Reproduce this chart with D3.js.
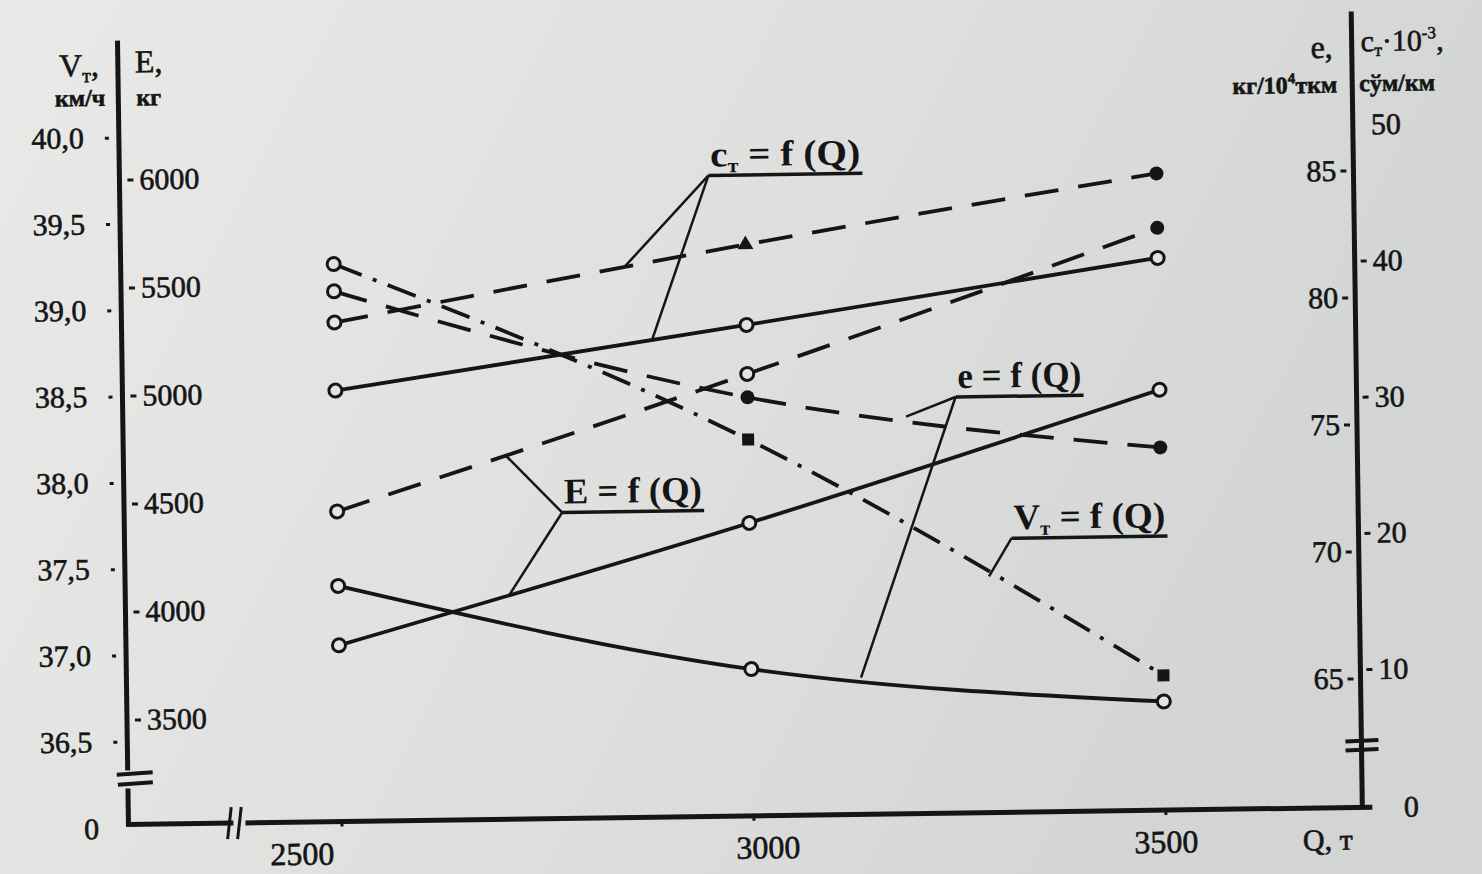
<!DOCTYPE html>
<html>
<head>
<meta charset="utf-8">
<script src="https://cdn.jsdelivr.net/npm/d3@7"></script>
<style>
  body { margin: 0; background: #dfe0de; }
  svg { display: block; }
  .tick text { font-family: "Liberation Serif", "DejaVu Serif", serif; }
</style>
</head>
<body>
<div id="chart"></div>
<script>
// Q, т (cargo volume)
var qValues = [2500, 3000, 3500];
var qTicks = [2500, 3000, 3500];

// series
var ctDashed = [36.5, 41.8, 46.6];   // cт·10^-3, сўм/км
var ctSolid = [31.5, 35.9, 40.4];
var eDashed = [80.8, 76.4, 74.2];    // e, кг/10^4 ткм
var eSolid = [69.2, 65.7, 64.2];
var EDashed = [4450, 5060, 5710];    // E, кг
var ESolid = [3830, 4370, 4960];
var vT = [39.25, 38.2, 36.8];        // Vт, км/ч

// tick labels
var vTicks = [40, 39.5, 39, 38.5, 38, 37.5, 37, 36.5];
var ETicks = [6000, 5500, 5000, 4500, 4000, 3500];
var eTicks = [85, 80, 75, 70, 65];
var ctTicks = [50, 40, 30, 20, 10];

var width = 1482, height = 874;
var ink = "#151515";
var serif = '"Liberation Serif", "DejaVu Serif", serif';

var svg = d3.select("#chart").append("svg")
  .attr("width", width)
  .attr("height", height);

// paper background
var grad = svg.append("defs").append("linearGradient")
  .attr("id", "paper").attr("x1", 0).attr("x2", 1).attr("y1", 0).attr("y2", 0.3);
grad.append("stop").attr("offset", "0%").attr("stop-color", "#e9eae8");
grad.append("stop").attr("offset", "55%").attr("stop-color", "#dfe0de");
grad.append("stop").attr("offset", "100%").attr("stop-color", "#d2d5d4");
svg.append("rect").attr("width", width).attr("height", height).attr("fill", "url(#paper)");

// the photo is a little tilted
var g = svg.append("g").attr("transform", "rotate(-0.8, 740, 430)");

/* scales */
var x = d3.scaleLinear().domain([2500, 3500]).range([336, 1160]);
var yV = d3.scaleLinear().domain([36.5, 40]).range([733, 129]);
var yE = d3.scaleLinear().domain([3500, 6000]).range([711, 171]);
var ye = d3.scaleLinear().domain([65, 85]).range([687, 179]);
var yc = d3.scaleLinear().domain([0, 50]).range([814, 133]);

var leftX = 123, rightX = 1357, baseY = 816;
var comma = function(d) { return d3.format(".1f")(d).replace(".", ","); };

function styleAxis(sel, size) {
  sel.select(".domain").remove();
  sel.selectAll(".tick line").attr("stroke", ink).attr("stroke-width", 3);
  sel.selectAll(".tick text").attr("fill", ink).style("font-size", size + "px")
    .attr("stroke", ink).attr("stroke-width", 0.6);
}

/* axes */
g.append("g").attr("transform", "translate(" + (leftX - 10) + ",0)")
  .call(d3.axisLeft(yV).tickValues(vTicks).tickSize(4).tickPadding(21).tickFormat(comma))
  .call(styleAxis, 30);

g.append("g").attr("transform", "translate(" + (leftX + 8) + ",0)")
  .call(d3.axisRight(yE).tickValues(ETicks).tickSize(6).tickPadding(6).tickFormat(d3.format("d")))
  .call(styleAxis, 30);

g.append("g").attr("transform", "translate(" + (rightX - 7) + ",0)")
  .call(d3.axisLeft(ye).tickValues(eTicks).tickSize(6).tickPadding(4).tickFormat(d3.format("d")))
  .call(styleAxis, 30);

g.append("g").attr("transform", "translate(" + (rightX + 6) + ",0)")
  .call(d3.axisRight(yc).tickValues(ctTicks).tickSize(6).tickPadding(6).tickFormat(d3.format("d")))
  .call(styleAxis, 30);
g.selectAll(".tick").filter(function(d) { return d === 50; }).select("line").remove();

var xAxis = g.append("g").attr("transform", "translate(0," + baseY + ")")
  .call(d3.axisBottom(x).tickValues(qTicks).tickSize(5).tickPadding(15).tickFormat(d3.format("d")))
  .call(styleAxis, 32);
var xShift = [-40, 14, 0];
xAxis.selectAll(".tick text").attr("dx", function(d, i) { return xShift[i]; });

/* axis lines with breaks */
var axisLine = function(pts) {
  g.append("path").attr("d", d3.line()(pts))
    .attr("fill", "none").attr("stroke", ink).attr("stroke-width", 5);
};
axisLine([[leftX, 32], [leftX, 762]]);
axisLine([[leftX, 780], [leftX, baseY], [228, baseY]]);
axisLine([[240, baseY], [rightX + 10, baseY]]);
axisLine([[rightX, 20], [rightX, baseY]]);

var thin = function(pts, w) {
  g.append("path").attr("d", d3.line()(pts))
    .attr("fill", "none").attr("stroke", ink).attr("stroke-width", w || 3);
};
// left break
thin([[112, 766], [148, 764]], 4);
thin([[113, 776], [148, 774]], 4);
// x break
thin([[226, 800], [222, 832]], 3);
thin([[236, 800], [232, 832]], 3);
// right break
thin([[1341, 750], [1374, 749]], 4);
thin([[1341, 759], [1374, 758]], 4);

/* zero labels and axis titles */
function label(txt, px, py, anchor, size) {
  return g.append("text").attr("x", px).attr("y", py)
    .attr("text-anchor", anchor || "start")
    .attr("font-family", serif).attr("font-size", size || 30)
    .attr("fill", ink).attr("stroke", ink).attr("stroke-width", 0.6).text(txt);
}
label("0", 86, 830, "middle", 30);
label("0", 1406, 826, "middle", 30);
label("Q, т", 1322, 858, "middle", 30);

var vt = label("", 104, 67, "end", 32);
vt.append("tspan").text("V");
vt.append("tspan").attr("font-size", 20).attr("dy", 6).text("т");
vt.append("tspan").attr("dy", -6).text(",");
label("км/ч", 110, 97, "end", 24).attr("font-weight", "bold");
label("E,", 140, 64, "start", 32);
label("кг", 141, 97, "start", 24).attr("font-weight", "bold");

label("e,", 1338, 66, "end", 32);
var kg = label("", 1342, 101, "end", 24).attr("font-weight", "bold");
kg.append("tspan").text("кг/10");
kg.append("tspan").attr("font-size", 15).attr("dy", -10).text("4");
kg.append("tspan").attr("dy", 10).text("ткм");
var ct = label("", 1366, 60, "start", 30);
ct.append("tspan").text("c");
ct.append("tspan").attr("font-size", 18).attr("dy", 5).text("т");
ct.append("tspan").attr("dy", -5).text("·10");
ct.append("tspan").attr("font-size", 17).attr("dy", -12).text("-3");
ct.append("tspan").attr("dy", 12).text(",");
label("сўм/км", 1364, 100, "start", 24).attr("font-weight", "bold");

/* series */
var series = [
  { values: ctDashed, y: yc, dash: "34,20", marks: ["open", "tri", "dot"] },
  { values: ctSolid, y: yc, dash: null, marks: ["open", "open", "open"] },
  { values: EDashed, y: yE, dash: "34,20", marks: ["open", "open", "dot"] },
  { values: ESolid, y: yE, dash: null, marks: ["open", "open", "open"] },
  { values: eDashed, y: ye, dash: "34,20", marks: ["open", "dot", "dot"] },
  { values: eSolid, y: ye, dash: null, marks: ["open", "open", "open"] },
  { values: vT, y: yV, dash: "30,12,4,12", marks: ["open", "square", "square"] }
];

series.forEach(function(s) {
  var pts = qValues.map(function(q, i) { return [x(q), s.y(s.values[i])]; });
  g.append("path")
    .attr("d", d3.line().curve(d3.curveMonotoneX)(pts))
    .attr("fill", "none")
    .attr("stroke", ink)
    .attr("stroke-width", 3.8)
    .attr("stroke-dasharray", s.dash);

  var m = g.append("g").selectAll("g").data(pts).enter().append("g")
    .attr("transform", function(d) { return "translate(" + d[0] + "," + d[1] + ")"; });
  m.each(function(d, i) {
    var el = d3.select(this), kind = s.marks[i];
    if (kind === "open") {
      el.append("circle").attr("r", 6.5).attr("fill", "#e3e4e2").attr("stroke", ink).attr("stroke-width", 3);
    } else if (kind === "dot") {
      el.append("circle").attr("r", 7).attr("fill", ink);
    } else if (kind === "square") {
      el.append("rect").attr("x", -6).attr("y", -6).attr("width", 12).attr("height", 12).attr("fill", ink);
    } else if (kind === "tri") {
      el.append("path").attr("d", d3.symbol(d3.symbolTriangle, 110)()).attr("fill", ink);
    }
  });
});

/* curve labels with leader lines */
var at = function(vals, q) { return d3.scaleLinear().domain(qValues).range(vals)(q); };

var notes = [
  { main: "c", sub: "т", rest: " = f (Q)", x: 712, y: 166, w: 154,
    targets: [[ctDashed, yc, 2852], [ctSolid, yc, 2885]] },
  { main: "e", sub: "", rest: " = f (Q)", x: 956, y: 391, w: 128,
    targets: [[eDashed, ye, 3192], [eSolid, ye, 3133]] },
  { main: "V", sub: "т", rest: " = f (Q)", x: 1010, y: 533, w: 156,
    targets: [[vT, yV, 3290]] },
  { main: "E", sub: "", rest: " = f (Q)", x: 561, y: 501, w: 142,
    targets: [[EDashed, yE, 2705], [ESolid, yE, 2708]] }
];

notes.forEach(function(n) {
  var t = g.append("text").attr("x", n.x + 2).attr("y", n.y)
    .attr("font-family", serif).attr("font-size", 36).attr("font-weight", "bold")
    .attr("fill", ink)
    .attr("textLength", n.w - 4).attr("lengthAdjust", "spacingAndGlyphs");
  t.append("tspan").text(n.main);
  if (n.sub) {
    t.append("tspan").attr("font-size", 20).attr("dy", 6).text(n.sub);
    t.append("tspan").attr("dy", -6).text(n.rest);
  } else {
    t.append("tspan").text(n.rest);
  }
  var uy = n.y + 9;
  thin([[n.x, uy], [n.x + n.w, uy]], 3.5);
  n.targets.forEach(function(tg) {
    thin([[n.x, uy], [x(tg[2]), tg[1](at(tg[0], tg[2]))]], 2.5);
  });
});
</script>
</body>
</html>
